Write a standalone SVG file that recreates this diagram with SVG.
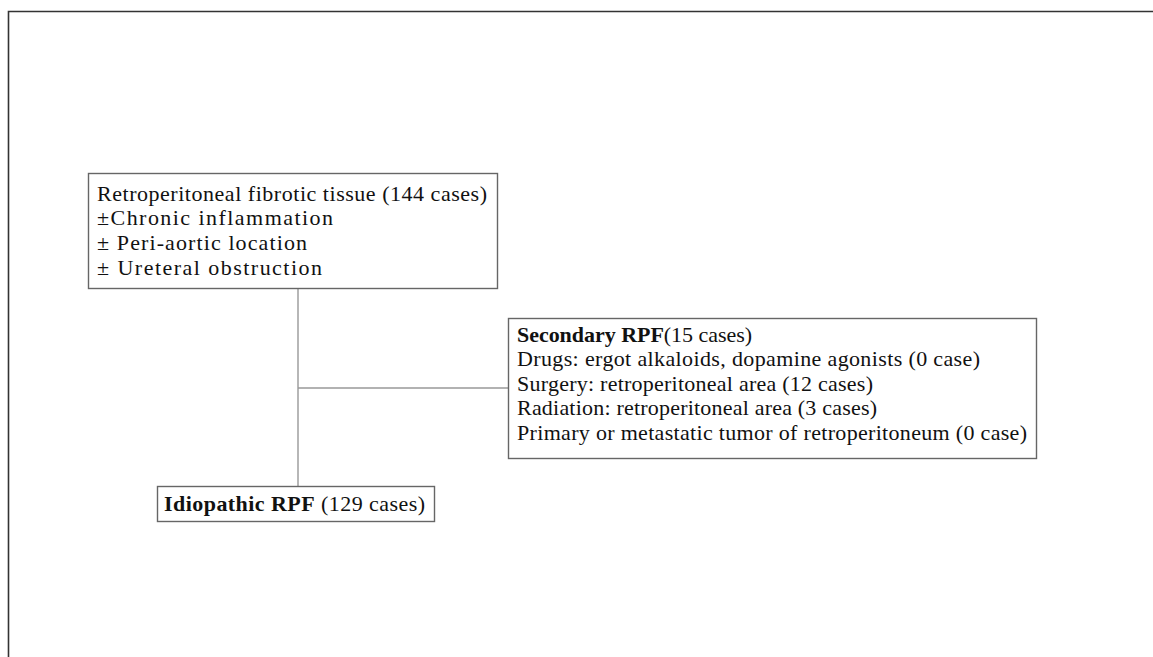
<svg xmlns="http://www.w3.org/2000/svg" width="1153" height="657" viewBox="0 0 1153 657">
<style>
.box{fill:#fff;stroke:#666;stroke-width:1.4}
.t{font-family:"Liberation Serif","Times New Roman",serif;font-size:22px;fill:#111}
.b{font-weight:bold}
.con{stroke:#999;stroke-width:1.4;fill:none}
.frame{stroke:#333;stroke-width:1.6;fill:none}
</style>
<rect width="1153" height="657" fill="#fff"/>
<path class="frame" d="M8.5 657 V11.5 H1153"/>
<g id="connectors">
<line class="con" x1="298" y1="289" x2="298" y2="486"/>
<line class="con" x1="298" y1="388" x2="508" y2="388"/>
</g>
<g id="node-rpf">
<rect class="box" x="88.5" y="173.5" width="409" height="115"/>
<text class="t" x="97" y="201" textLength="390" lengthAdjust="spacing">Retroperitoneal fibrotic tissue (144 cases)</text>
<text class="t" x="97" y="225" textLength="236" lengthAdjust="spacing">±Chronic inflammation</text>
<text class="t" x="97" y="250" textLength="210" lengthAdjust="spacing">± Peri-aortic location</text>
<text class="t" x="97" y="275" textLength="225" lengthAdjust="spacing">± Ureteral obstruction</text>
</g>
<g id="node-secondary">
<rect class="box" x="508.5" y="318.5" width="528" height="140"/>
<text class="t" x="517" y="342" textLength="235" lengthAdjust="spacing"><tspan class="b">Secondary RPF</tspan>(15 cases)</text>
<text class="t" x="517" y="366" textLength="463" lengthAdjust="spacing">Drugs: ergot alkaloids, dopamine agonists (0 case)</text>
<text class="t" x="517" y="391" textLength="356" lengthAdjust="spacing">Surgery: retroperitoneal area (12 cases)</text>
<text class="t" x="517" y="415" textLength="360" lengthAdjust="spacing">Radiation: retroperitoneal area (3 cases)</text>
<text class="t" x="517" y="440" textLength="510" lengthAdjust="spacing">Primary or metastatic tumor of retroperitoneum (0 case)</text>
</g>
<g id="node-idiopathic">
<rect class="box" x="157.5" y="486.5" width="277" height="35"/>
<text class="t" x="164" y="511" textLength="261" lengthAdjust="spacing"><tspan class="b">Idiopathic RPF</tspan> (129 cases)</text>
</g>
</svg>
